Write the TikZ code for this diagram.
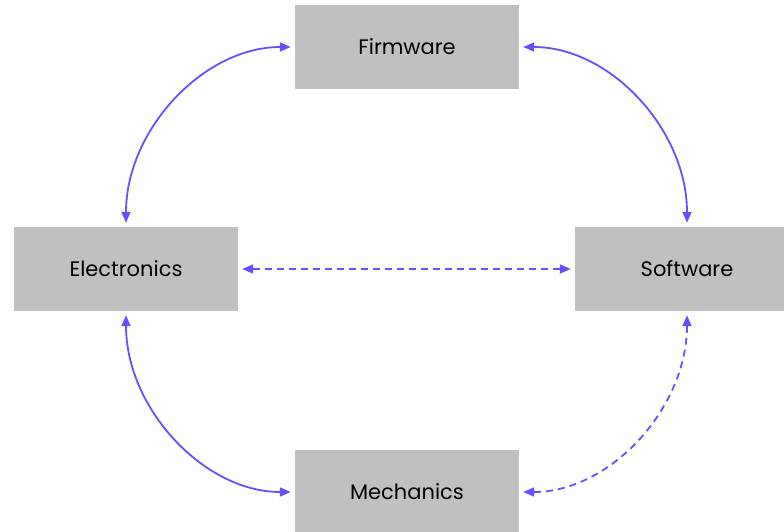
\documentclass[tikz,border=0pt]{standalone}
\usepackage{fontspec}
\setmainfont{Poppins}
\usetikzlibrary{arrows.meta}
\definecolor{boxgray}{HTML}{C0C0C0}
\definecolor{link}{HTML}{654FFF}
\tikzset{
  block/.style={fill=boxgray, draw=none, minimum width=224pt, minimum height=84pt, inner sep=0pt, font=\fontsize{21}{24}\selectfont, text=black},
  conn/.style={link, line width=1.8pt, {Triangle[length=11pt,width=9pt]}-{Triangle[length=11pt,width=9pt]}, shorten <=4pt, shorten >=4pt},
  dashconn/.style={conn, dash pattern=on 7pt off 5pt}
}
\begin{document}
\begin{tikzpicture}[x=1pt,y=-1pt]
\useasboundingbox (0,0) rectangle (784,532);
\clip (0,0) rectangle (784,532);
\node[block] (fw) at (407,47) {Firmware};
\node[block] (el) at (126,269) {Electronics};
\node[block] (sw) at (687,269) {Software};
\node[block] (me) at (407,492) {Mechanics};
\draw[conn] (fw.west) .. controls +(-91,0) and +(0,-97) .. (el.north);
\draw[conn] (fw.east) .. controls +(91,0) and +(0,-97) .. (sw.north);
\draw[conn] (el.south) .. controls +(0,97) and +(-91,0) .. (me.west);
\draw[dashconn] (sw.south) .. controls +(0,97) and +(91,0) .. (me.east);
\draw[dashconn] (el.east) -- (sw.west);
\end{tikzpicture}
\end{document}
